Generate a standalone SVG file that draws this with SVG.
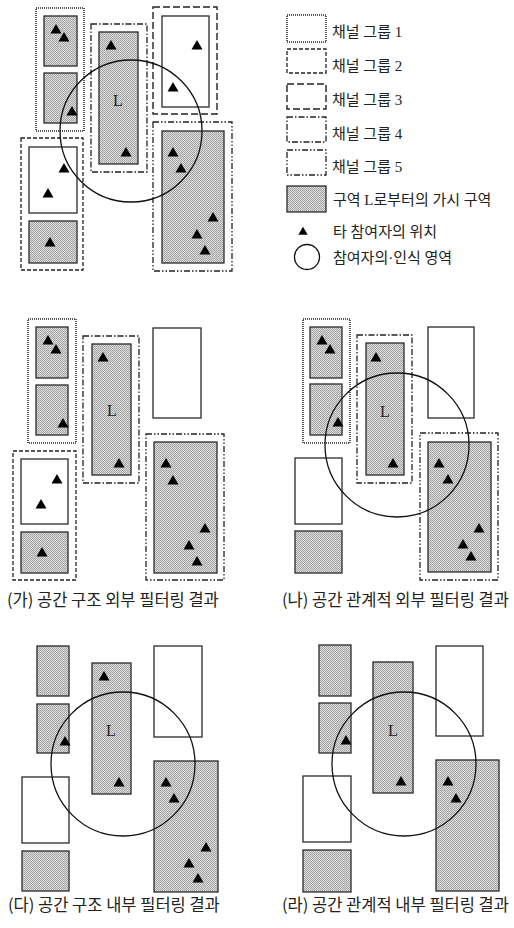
<svg xmlns="http://www.w3.org/2000/svg" xmlns:xlink="http://www.w3.org/1999/xlink" width="514" height="928" viewBox="0 0 514 928">
<style>
.bg{fill:#fff}
.sh{fill:url(#dither);stroke:#2a2a2a;stroke-width:1.3}
.wh{fill:#fff;stroke:#2a2a2a;stroke-width:1.3}
.g1{fill:none;stroke:#222;stroke-width:1.5;stroke-dasharray:1 1}
.g2{fill:none;stroke:#222;stroke-width:1.3;stroke-dasharray:4 2}
.g3{fill:none;stroke:#222;stroke-width:1.4;stroke-dasharray:7 3}
.g4{fill:none;stroke:#222;stroke-width:1.3;stroke-dasharray:6 2 1.5 2}
.g5{fill:none;stroke:#222;stroke-width:1.3;stroke-dasharray:6 2 1.5 2 1.5 2}
.circ{fill:none;stroke:#111;stroke-width:1.3}
.lbl{font-family:'Liberation Serif','Noto Sans CJK KR',serif;font-size:16px;fill:#222;text-anchor:middle}
.leg{font-family:'Liberation Serif','Noto Sans CJK KR',serif;font-size:15px;fill:#222}
.cap{font-family:'Noto Sans CJK KR',sans-serif;font-size:16.5px;fill:#222}
</style>
<defs>
<pattern id="dither" patternUnits="userSpaceOnUse" width="2" height="2">
<rect width="2" height="2" fill="#dcdcdc"/>
<rect width="1" height="1" fill="#a0a0a0"/>
<rect x="1" y="1" width="1" height="1" fill="#a8a8a8"/>
</pattern>
<path id="tri" d="M0,-5 L5.5,4.5 L-5.5,4.5 Z" fill="#000"/>
</defs>
<rect class="bg" width="514" height="928"/>

<!-- Panel: original layout -->
<g id="panel-top">
<g id="p1-group1"><rect class="g1" x="36" y="8" width="48" height="123"/><rect class="sh" x="44" y="16" width="33" height="50"/><rect class="sh" x="44" y="73" width="33" height="50"/></g>
<g id="p1-group4"><rect class="g4" x="91" y="24" width="56" height="148"/><rect class="sh" x="99" y="32" width="39" height="132"/><text class="lbl" x="118" y="106">L</text></g>
<g id="p1-group3"><rect class="g3" x="153" y="7" width="64" height="107"/><rect class="wh" x="162" y="16" width="47" height="91"/></g>
<g id="p1-group2"><rect class="g2" x="21" y="138" width="62" height="132"/><rect class="wh" x="29" y="147" width="48" height="66"/><rect class="sh" x="29" y="221" width="48" height="42"/></g>
<g id="p1-group5"><rect class="g5" x="153" y="122" width="79" height="149"/><rect class="sh" x="162" y="131" width="62" height="132"/></g>
<circle id="p1-area" class="circ" cx="131" cy="131" r="71"/>
<g id="p1-participants">
<use xlink:href="#tri" x="56" y="29"/><use xlink:href="#tri" x="64" y="37"/><use xlink:href="#tri" x="72" y="111"/>
<use xlink:href="#tri" x="111" y="45"/><use xlink:href="#tri" x="126" y="152"/>
<use xlink:href="#tri" x="197" y="45"/><use xlink:href="#tri" x="173" y="87"/>
<use xlink:href="#tri" x="64" y="168"/><use xlink:href="#tri" x="48" y="193"/><use xlink:href="#tri" x="50" y="242"/>
<use xlink:href="#tri" x="173" y="152"/><use xlink:href="#tri" x="181" y="168"/><use xlink:href="#tri" x="213" y="217"/><use xlink:href="#tri" x="197" y="234"/><use xlink:href="#tri" x="205" y="250"/>
</g>
</g>

<!-- Legend -->
<g id="legend">
<g id="leg-g1"><rect class="g1" x="287" y="15" width="39" height="27"/><text class="leg" x="332" y="37">채널 그룹 1</text></g>
<g id="leg-g2"><rect class="g2" x="287" y="49" width="39" height="24"/><text class="leg" x="332" y="71">채널 그룹 2</text></g>
<g id="leg-g3"><rect class="g3" x="287" y="84" width="39" height="25"/><text class="leg" x="332" y="105">채널 그룹 3</text></g>
<g id="leg-g4"><rect class="g4" x="287" y="117" width="39" height="25"/><text class="leg" x="332" y="139">채널 그룹 4</text></g>
<g id="leg-g5"><rect class="g5" x="287" y="150" width="39" height="25"/><text class="leg" x="332" y="172">채널 그룹 5</text></g>
<g id="leg-vis"><rect class="sh" x="287" y="186" width="39" height="26"/><text class="leg" x="333" y="205">구역 L로부터의 가시 구역</text></g>
<g id="leg-tri"><use xlink:href="#tri" x="303" y="231" transform="translate(303 231) scale(0.85) translate(-303 -231)"/><text class="leg" x="333" y="237">타 참여자의 위치</text></g>
<g id="leg-circ"><circle class="circ" cx="307" cy="257" r="12.5"/><text class="leg" x="333" y="263">참여자의·인식 영역</text></g>
</g>

<!-- Panel (가) -->
<g id="panel-ga">
<g id="p2-group1"><rect class="g1" x="28" y="319" width="48" height="124"/><rect class="sh" x="36" y="327" width="32" height="51"/><rect class="sh" x="36" y="385" width="32" height="50"/></g>
<g id="p2-group4"><rect class="g4" x="83" y="336" width="56" height="147"/><rect class="sh" x="92" y="344" width="39" height="131"/><text class="lbl" x="112" y="416">L</text></g>
<g id="p2-area3"><rect class="wh" x="153" y="328" width="48" height="90"/></g>
<g id="p2-group2"><rect class="g2" x="13" y="451" width="63" height="129"/><rect class="wh" x="21" y="459" width="47" height="65"/><rect class="sh" x="21" y="532" width="47" height="41"/></g>
<g id="p2-group5"><rect class="g5" x="146" y="434" width="78" height="146"/><rect class="sh" x="154" y="442" width="63" height="131"/></g>
<g id="p2-participants">
<use xlink:href="#tri" x="48" y="340"/><use xlink:href="#tri" x="56" y="349"/><use xlink:href="#tri" x="63" y="423"/>
<use xlink:href="#tri" x="103" y="357"/><use xlink:href="#tri" x="119" y="463"/>
<use xlink:href="#tri" x="57" y="479"/><use xlink:href="#tri" x="41" y="504"/><use xlink:href="#tri" x="42" y="552"/>
<use xlink:href="#tri" x="166" y="463"/><use xlink:href="#tri" x="173" y="480"/><use xlink:href="#tri" x="205" y="528"/><use xlink:href="#tri" x="189" y="545"/><use xlink:href="#tri" x="197" y="561"/>
</g>
<text class="cap" x="7" y="606">(가) 공간 구조 외부 필터링 결과</text>
</g>

<!-- Panel (나) -->
<g id="panel-na">
<g id="p3-group1"><rect class="g1" x="303" y="319" width="47" height="124"/><rect class="sh" x="310" y="327" width="32" height="51"/><rect class="sh" x="310" y="384" width="32" height="51"/></g>
<g id="p3-group4"><rect class="g4" x="357" y="335" width="55" height="148"/><rect class="sh" x="366" y="343" width="38" height="132"/><text class="lbl" x="385" y="417">L</text></g>
<g id="p3-area3"><rect class="wh" x="428" y="327" width="46" height="91"/></g>
<g id="p3-area2"><rect class="wh" x="295" y="458" width="47" height="66"/><rect class="sh" x="295" y="531" width="47" height="42"/></g>
<g id="p3-group5"><rect class="g5" x="420" y="433" width="78" height="147"/><rect class="sh" x="428" y="442" width="63" height="130"/></g>
<circle id="p3-area" class="circ" cx="397" cy="445" r="72"/>
<g id="p3-participants">
<use xlink:href="#tri" x="322" y="340"/><use xlink:href="#tri" x="330" y="349"/><use xlink:href="#tri" x="338" y="422"/>
<use xlink:href="#tri" x="376" y="357"/><use xlink:href="#tri" x="393" y="463"/>
<use xlink:href="#tri" x="439" y="463"/><use xlink:href="#tri" x="448" y="479"/><use xlink:href="#tri" x="479" y="528"/><use xlink:href="#tri" x="463" y="544"/><use xlink:href="#tri" x="471" y="556"/>
</g>
<text class="cap" x="282" y="606">(나) 공간 관계적 외부 필터링 결과</text>
</g>

<!-- Panel (다) -->
<g id="panel-da">
<g id="p4-area1"><rect class="sh" x="37" y="646" width="32" height="50"/><rect class="sh" x="37" y="704" width="32" height="49"/></g>
<g id="p4-areaL"><rect class="sh" x="92" y="663" width="39" height="131"/><text class="lbl" x="111" y="736">L</text></g>
<g id="p4-area3"><rect class="wh" x="154" y="646" width="48" height="91"/></g>
<g id="p4-area2"><rect class="wh" x="22" y="777" width="47" height="66"/><rect class="sh" x="22" y="851" width="47" height="40"/></g>
<g id="p4-area5"><rect class="sh" x="154" y="761" width="64" height="131"/></g>
<circle id="p4-area" class="circ" cx="123" cy="764" r="72"/>
<g id="p4-participants">
<use xlink:href="#tri" x="65" y="741"/>
<use xlink:href="#tri" x="104" y="676"/><use xlink:href="#tri" x="119" y="782"/>
<use xlink:href="#tri" x="166" y="782"/><use xlink:href="#tri" x="174" y="798"/><use xlink:href="#tri" x="206" y="847"/><use xlink:href="#tri" x="189" y="863"/><use xlink:href="#tri" x="198" y="878"/>
</g>
<text class="cap" x="8" y="911">(다) 공간 구조 내부 필터링 결과</text>
</g>

<!-- Panel (라) -->
<g id="panel-ra">
<g id="p5-area1"><rect class="sh" x="319" y="645" width="32" height="51"/><rect class="sh" x="319" y="703" width="32" height="50"/></g>
<g id="p5-areaL"><rect class="sh" x="373" y="662" width="40" height="131"/><text class="lbl" x="393" y="736">L</text></g>
<g id="p5-area3"><rect class="wh" x="436" y="646" width="47" height="90"/></g>
<g id="p5-area2"><rect class="wh" x="303" y="776" width="48" height="66"/><rect class="sh" x="303" y="850" width="48" height="42"/></g>
<g id="p5-area5"><rect class="sh" x="436" y="760" width="63" height="131"/></g>
<circle id="p5-area" class="circ" cx="404" cy="764" r="72"/>
<g id="p5-participants">
<use xlink:href="#tri" x="346" y="740"/>
<use xlink:href="#tri" x="401" y="781"/>
<use xlink:href="#tri" x="448" y="781"/><use xlink:href="#tri" x="456" y="798"/>
</g>
<text class="cap" x="282" y="911">(라) 공간 관계적 내부 필터링 결과</text>
</g>
</svg>
